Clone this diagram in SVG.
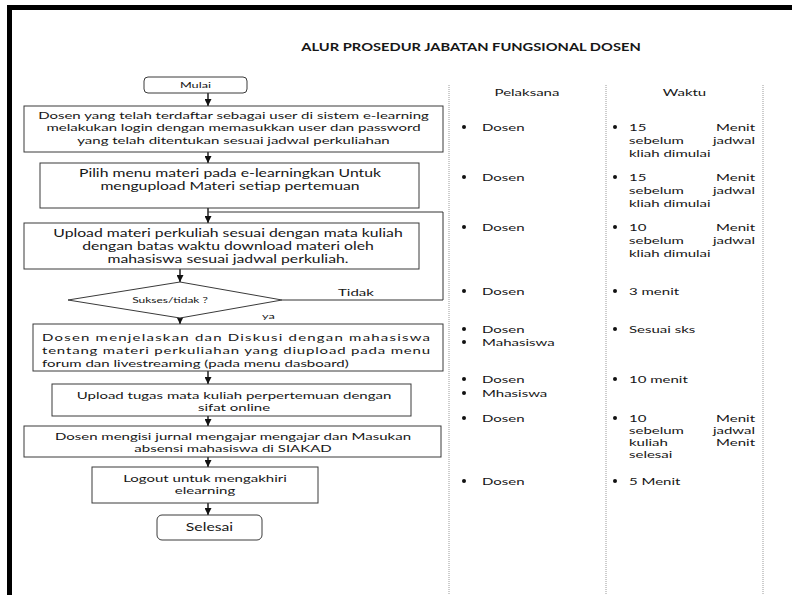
<svg xmlns="http://www.w3.org/2000/svg" width="792" height="595" viewBox="0 0 792 595">
<style>
.t{font-family:Lato,"Open Sans","Liberation Sans",sans-serif;font-size:10px;fill:#161616}
.m{font-size:10.5px}
.s{font-size:8.5px}
.xs{font-size:8px}
.b{font-weight:bold}
.box{fill:#fff;stroke:#3a3a3a;stroke-width:1}
.con{stroke:#111;stroke-width:1.4;fill:none}
.dot{stroke:#9a9a9a;stroke-width:1;stroke-dasharray:1 1;fill:none}
.bul{fill:#111}
</style>
<defs>
<marker id="ah" markerUnits="userSpaceOnUse" markerWidth="8" markerHeight="7" refX="7" refY="3.5" orient="auto">
<path d="M0,0 L7,3.5 L0,7 z" fill="#111"/>
</marker>
</defs>
<rect width="792" height="595" fill="#fff"/>
<polyline points="9.5,595 9.5,7.5 792,7.5" fill="none" stroke="#000" stroke-width="5"/>

<text class="t b" text-anchor="middle" transform="translate(471 51) scale(1.4 1)" style="font-size:10.5px">ALUR PROSEDUR JABATAN FUNGSIONAL DOSEN</text>

<g id="columns">
<line class="dot" x1="449" y1="85" x2="449" y2="595"/>
<line class="dot" x1="606" y1="85" x2="606" y2="595"/>
<line class="dot" x1="763" y1="85" x2="763" y2="595"/>
<text class="t" text-anchor="middle" transform="translate(527 96) scale(1.5 1)">Pelaksana</text>
<text class="t" text-anchor="middle" transform="translate(684.5 96) scale(1.5 1)">Waktu</text>
</g>

<g id="connectors">
<path class="con" d="M208,93 V106" marker-end="url(#ah)"/>
<path class="con" d="M208,152 V163" marker-end="url(#ah)"/>
<path class="con" d="M208,208 V223" marker-end="url(#ah)"/>
<path class="con" d="M180,269 V282" marker-end="url(#ah)"/>
<path class="con" d="M180,316 V324" marker-end="url(#ah)"/>
<path class="con" d="M208,371 V384" marker-end="url(#ah)"/>
<path class="con" d="M208,416 V426" marker-end="url(#ah)"/>
<path class="con" d="M208,457 V467" marker-end="url(#ah)"/>
<path class="con" d="M208,503 V515" marker-end="url(#ah)"/>
<path d="M282,300 H443 V212 H208" fill="none" stroke="#333" stroke-width="1"/>
<text class="t" transform="translate(338 296) scale(1.5 1)">Tidak</text>
<text class="t s" transform="translate(262 319) scale(1.5 1)">ya</text>
</g>

<g id="mulai">
<rect class="box" x="144" y="77" width="103" height="16" rx="4"/>
<text class="t s" text-anchor="middle" transform="translate(195.5 88) scale(1.5 1)">Mulai</text>
</g>

<g id="login">
<rect class="box" x="24" y="106" width="419" height="46"/>
<text class="t" text-anchor="middle" transform="translate(233.5 119) scale(1.5 1)"><tspan x="0">Dosen yang telah terdaftar sebagai user di sistem e-learning</tspan><tspan x="0" dy="12.5">melakukan login dengan memasukkan user dan password</tspan><tspan x="0" dy="12.5">yang telah ditentukan sesuai jadwal perkuliahan</tspan></text>
</g>

<g id="pilih-menu">
<rect class="box" x="40" y="163" width="379" height="45"/>
<text class="t m" text-anchor="middle" transform="translate(230 177) scale(1.5 1)"><tspan x="0">Pilih menu materi pada e-learningkan Untuk</tspan><tspan x="0" dy="13">mengupload Materi setiap pertemuan</tspan></text>
</g>

<g id="upload-materi">
<rect class="box" x="24" y="223" width="395" height="46"/>
<text class="t m" text-anchor="middle" transform="translate(228 236.5) scale(1.5 1)"><tspan x="0">Upload materi perkuliah sesuai dengan mata kuliah</tspan><tspan x="0" dy="13.5">dengan batas waktu download materi oleh</tspan><tspan x="0" dy="13.5">mahasiswa sesuai jadwal perkuliah.</tspan></text>
</g>

<g id="sukses">
<polygon class="box" points="180,282 282,300 180,318 68,300"/>
<text class="t xs" text-anchor="middle" transform="translate(170 303) scale(1.5 1)">Sukses/tidak ?</text>
</g>

<g id="diskusi">
<rect class="box" x="33" y="324" width="410" height="47"/>
<text class="t" textLength="258.7" lengthAdjust="spacing" transform="translate(42 340.5) scale(1.5 1)">Dosen menjelaskan dan Diskusi dengan mahasiswa</text>
<text class="t" textLength="258.7" lengthAdjust="spacing" transform="translate(42 353.5) scale(1.5 1)">tentang materi perkuliahan yang diupload pada menu</text>
<text class="t" transform="translate(42 366.5) scale(1.5 1)">forum dan livestreaming (pada menu dasboard)</text>
</g>

<g id="upload-tugas">
<rect class="box" x="52" y="384" width="359" height="32"/>
<text class="t" text-anchor="middle" transform="translate(234 398.5) scale(1.5 1)"><tspan x="0">Upload tugas mata kuliah perpertemuan dengan</tspan><tspan x="0" dy="12.5">sifat online</tspan></text>
</g>

<g id="jurnal">
<rect class="box" x="24" y="426" width="417" height="31"/>
<text class="t" text-anchor="middle" transform="translate(233 439.5) scale(1.5 1)"><tspan x="0">Dosen mengisi jurnal mengajar mengajar dan Masukan</tspan><tspan x="0" dy="12.5">absensi mahasiswa di SIAKAD</tspan></text>
</g>

<g id="logout">
<rect class="box" x="92" y="467" width="226" height="36"/>
<text class="t" text-anchor="middle" transform="translate(205 481.5) scale(1.5 1)"><tspan x="0">Logout untuk mengakhiri</tspan><tspan x="0" dy="13">elearning</tspan></text>
</g>

<g id="selesai">
<rect class="box" x="157" y="515" width="105" height="25" rx="5"/>
<text class="t" text-anchor="middle" transform="translate(209.5 531) scale(1.5 1)" style="font-size:10.5px">Selesai</text>
</g>

<g id="pelaksana">
<circle class="bul" cx="464" cy="127" r="2"/><text class="t" transform="translate(482 130.5) scale(1.5 1)">Dosen</text>
<circle class="bul" cx="464" cy="177" r="2"/><text class="t" transform="translate(482 180.5) scale(1.5 1)">Dosen</text>
<circle class="bul" cx="464" cy="227" r="2"/><text class="t" transform="translate(482 230.5) scale(1.5 1)">Dosen</text>
<circle class="bul" cx="464" cy="291" r="2"/><text class="t" transform="translate(482 294.5) scale(1.5 1)">Dosen</text>
<circle class="bul" cx="464" cy="329" r="2"/><text class="t" transform="translate(482 332.5) scale(1.5 1)">Dosen</text>
<circle class="bul" cx="464" cy="342" r="2"/><text class="t" transform="translate(482 345.5) scale(1.5 1)">Mahasiswa</text>
<circle class="bul" cx="464" cy="379" r="2"/><text class="t" transform="translate(482 382.5) scale(1.5 1)">Dosen</text>
<circle class="bul" cx="464" cy="393" r="2"/><text class="t" transform="translate(482 396.5) scale(1.5 1)">Mhasiswa</text>
<circle class="bul" cx="464" cy="418" r="2"/><text class="t" transform="translate(482 421.5) scale(1.5 1)">Dosen</text>
<circle class="bul" cx="464" cy="481" r="2"/><text class="t" transform="translate(482 484.5) scale(1.5 1)">Dosen</text>
</g>

<g id="waktu">
<circle class="bul" cx="615" cy="127" r="2"/>
<text class="t" transform="translate(629 130.5) scale(1.5 1)">15</text><text class="t" text-anchor="end" transform="translate(755 130.5) scale(1.5 1)">Menit</text>
<text class="t" transform="translate(629 143.5) scale(1.5 1)">sebelum</text><text class="t" text-anchor="end" transform="translate(755 143.5) scale(1.5 1)">jadwal</text>
<text class="t" transform="translate(629 156.5) scale(1.5 1)">kliah dimulai</text>

<circle class="bul" cx="615" cy="177" r="2"/>
<text class="t" transform="translate(629 180.5) scale(1.5 1)">15</text><text class="t" text-anchor="end" transform="translate(755 180.5) scale(1.5 1)">Menit</text>
<text class="t" transform="translate(629 193.5) scale(1.5 1)">sebelum</text><text class="t" text-anchor="end" transform="translate(755 193.5) scale(1.5 1)">jadwal</text>
<text class="t" transform="translate(629 206.5) scale(1.5 1)">kliah dimulai</text>

<circle class="bul" cx="615" cy="227" r="2"/>
<text class="t" transform="translate(629 230.5) scale(1.5 1)">10</text><text class="t" text-anchor="end" transform="translate(755 230.5) scale(1.5 1)">Menit</text>
<text class="t" transform="translate(629 243.5) scale(1.5 1)">sebelum</text><text class="t" text-anchor="end" transform="translate(755 243.5) scale(1.5 1)">jadwal</text>
<text class="t" transform="translate(629 256.5) scale(1.5 1)">kliah dimulai</text>

<circle class="bul" cx="615" cy="291" r="2"/>
<text class="t" transform="translate(629 294.5) scale(1.5 1)">3 menit</text>

<circle class="bul" cx="615" cy="329" r="2"/>
<text class="t" transform="translate(629 332.5) scale(1.5 1)">Sesuai sks</text>

<circle class="bul" cx="615" cy="379" r="2"/>
<text class="t" transform="translate(629 382.5) scale(1.5 1)">10 menit</text>

<circle class="bul" cx="615" cy="418" r="2"/>
<text class="t" transform="translate(629 421.5) scale(1.5 1)">10</text><text class="t" text-anchor="end" transform="translate(755 421.5) scale(1.5 1)">Menit</text>
<text class="t" transform="translate(629 433.5) scale(1.5 1)">sebelum</text><text class="t" text-anchor="end" transform="translate(755 433.5) scale(1.5 1)">jadwal</text>
<text class="t" transform="translate(629 445.5) scale(1.5 1)">kuliah</text><text class="t" text-anchor="end" transform="translate(755 445.5) scale(1.5 1)">Menit</text>
<text class="t" transform="translate(629 457.5) scale(1.5 1)">selesai</text>

<circle class="bul" cx="615" cy="481" r="2"/>
<text class="t" transform="translate(629 484.5) scale(1.5 1)">5 Menit</text>
</g>
</svg>
